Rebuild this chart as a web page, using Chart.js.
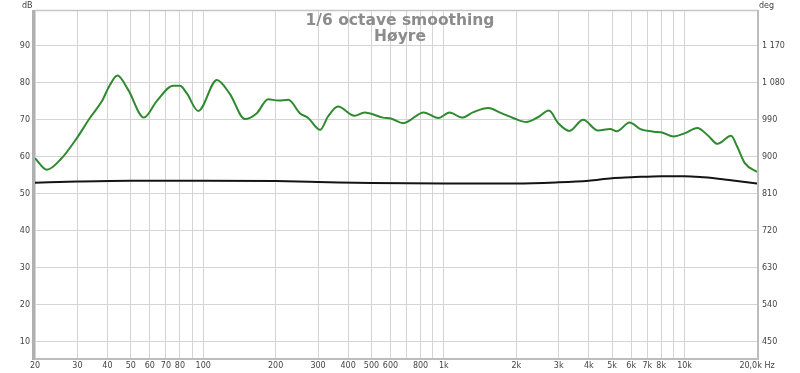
<!DOCTYPE html>
<html>
<head>
<meta charset="utf-8">
<script src="https://cdn.jsdelivr.net/npm/chart.js@4/dist/chart.umd.min.js"></script>
<style>
  html, body { margin: 0; padding: 0; background: #fff; }
  canvas { display: block; }
</style>
</head>
<body>
<canvas id="fr" width="800" height="373"></canvas>
<script>
// ─── data ───────────────────────────────────────────────────────────────────
const TITLE = ['1/6 octave smoothing', 'Høyre'];

// magnitude curve (green), dB on left axis
const magFreq = [20, 22.4, 25.8, 29.8, 33.8, 37.9, 41, 44, 48.8, 56.7, 64, 75, 80, 85.4, 95.4, 114, 129,
  149, 167, 186, 205, 226, 252, 273, 306, 330, 363, 426, 468, 558, 606, 678, 824, 948, 1056, 1188,
  1327, 1530, 1732, 1940, 2200, 2460, 2732, 2985, 3320, 3790, 4370, 4900, 5230, 5910, 6560, 7450,
  8060, 9000, 10040, 11300, 12540, 13700, 15600, 16540, 17800, 20000];
const magDb = [59.6, 56.5, 59.6, 65.0, 70.5, 75.0, 79.5, 82.0, 78.1, 70.6, 75.0, 79.2, 79.2, 77.2, 72.4, 80.8, 77.0,
  70.2, 71.8, 75.6, 75.2, 75.4, 71.8, 70.5, 67.3, 70.9, 73.6, 71.1, 72.0, 70.6, 70.3, 69.1, 72.0, 70.5, 72.0, 70.6,
  72.1, 73.2, 71.8, 70.5, 69.4, 70.7, 72.5, 69.1, 67.0, 70.0, 67.1, 67.5, 66.9, 69.3, 67.5, 66.8,
  66.6, 65.5, 66.4, 67.8, 65.7, 63.5, 65.7, 62.8, 58.3, 55.9];

// phase curve (black), degrees on right axis
const phFreq = [20, 30, 50, 100, 200, 300, 500, 1000, 2000, 3000, 4000, 5000, 6000, 8000, 10000, 12000, 15000, 20000];
const phDeg  = [837, 840, 842, 842, 841, 839, 836, 835, 835, 838, 842, 848, 850, 853, 853, 850, 844, 835];

// axes
const xGrid   = [20, 30, 40, 50, 60, 70, 80, 90, 100, 200, 300, 400, 500, 600, 700, 800, 900,
                 1000, 2000, 3000, 4000, 5000, 6000, 7000, 8000, 9000, 10000, 20000];
const xLabels = ['20', '30', '40', '50', '60', '70', '80', '', '100', '200', '300', '400', '500', '600', '', '800', '',
                 '1k', '2k', '3k', '4k', '5k', '6k', '7k', '8k', '', '10k', '20,0k Hz'];
const dbTicks  = [10, 20, 30, 40, 50, 60, 70, 80, 90];
const degTicks = [450, 540, 630, 720, 810, 900, 990, 1080, 1170];
const DB_MIN = 5.6, DB_MAX = 99.7;

// ─── helpers ────────────────────────────────────────────────────────────────
const toDeg   = db => 360 + 9 * db;           // right axis is tied to the left one
const fmtDeg  = v => String(v).replace(/\B(?=(\d{3})+(?!\d))/g, ' ');
const TICK_FONT = { family: 'DejaVu Sans', size: 8 };

const frameAndText = {
  id: 'frameAndText',
  afterDraw(chart) {
    const { ctx, chartArea: a } = chart;
    ctx.save();
    // plot frame
    ctx.strokeStyle = '#c6c6c6'; ctx.lineWidth = 1.5;
    ctx.beginPath(); ctx.moveTo(a.left, a.top + 0.5); ctx.lineTo(a.right + 1, a.top + 0.5); ctx.stroke();
    ctx.strokeStyle = '#bdbdbd'; ctx.lineWidth = 2;
    ctx.beginPath(); ctx.moveTo(a.right + 1, a.top); ctx.lineTo(a.right + 1, a.bottom + 1); ctx.stroke();
    ctx.beginPath(); ctx.moveTo(a.left, a.bottom + 1); ctx.lineTo(a.right + 2, a.bottom + 1); ctx.stroke();
    ctx.strokeStyle = '#b0b0b0'; ctx.lineWidth = 3;
    ctx.beginPath(); ctx.moveTo(a.left - 1.5, a.top); ctx.lineTo(a.left - 1.5, a.bottom + 2); ctx.stroke();

    // title
    ctx.fillStyle = '#8c8c8c';
    ctx.font = 'bold 15.5px "DejaVu Sans"';
    ctx.textAlign = 'center'; ctx.textBaseline = 'alphabetic';
    ctx.fillText(TITLE[0], 400, 25);
    ctx.fillText(TITLE[1], 400, 41);

    // axis units
    ctx.fillStyle = '#444';
    ctx.font = '8px "DejaVu Sans"';
    ctx.textAlign = 'left';
    ctx.fillText('dB', 22, 8);
    ctx.fillText('deg', 759, 8);
    ctx.restore();
  }
};

new Chart(document.getElementById('fr').getContext('2d'), {
  type: 'line',
  data: {
    datasets: [
      {
        label: 'Magnitude', yAxisID: 'y',
        data: magFreq.map((f, i) => ({ x: f, y: magDb[i] })),
        borderColor: '#2f8a2f', borderWidth: 2, pointRadius: 0,
        cubicInterpolationMode: 'monotone', fill: false,
      },
      {
        label: 'Phase', yAxisID: 'y1',
        data: phFreq.map((f, i) => ({ x: f, y: phDeg[i] })),
        borderColor: '#141414', borderWidth: 2, pointRadius: 0,
        cubicInterpolationMode: 'monotone', fill: false,
      },
    ],
  },
  options: {
    responsive: false, animation: false, devicePixelRatio: 1,
    layout: { padding: { top: 10, left: 0, right: 0, bottom: 0 } },
    plugins: { legend: { display: false }, tooltip: { enabled: false }, title: { display: false } },
    scales: {
      x: {
        type: 'logarithmic', min: 20, max: 20000,
        afterBuildTicks: s => { s.ticks = xGrid.map(v => ({ value: v })); },
        afterFit: s => { s.height = 15; },
        grid: { color: '#d4d4d4', lineWidth: 1, drawTicks: false },
        border: { display: false },
        ticks: {
          autoSkip: false, maxRotation: 0, minRotation: 0, padding: 3,
          color: '#444', font: TICK_FONT,
          callback: v => { const i = xGrid.indexOf(v); return i >= 0 ? xLabels[i] : ''; },
        },
      },
      y: {
        type: 'linear', position: 'left', min: DB_MIN, max: DB_MAX,
        afterBuildTicks: s => { s.ticks = dbTicks.map(v => ({ value: v })); },
        afterFit: s => { s.width = 35; },
        grid: { color: '#d4d4d4', lineWidth: 1, drawTicks: false },
        border: { display: false },
        ticks: { padding: 5, color: '#444', font: TICK_FONT, callback: v => String(v) },
      },
      y1: {
        type: 'linear', position: 'right', min: toDeg(DB_MIN), max: toDeg(DB_MAX),
        afterBuildTicks: s => { s.ticks = degTicks.map(v => ({ value: v })); },
        afterFit: s => { s.width = 43; },
        grid: { display: false, drawTicks: false },
        border: { display: false },
        ticks: { padding: 5, color: '#444', font: TICK_FONT, callback: v => fmtDeg(v) },
      },
    },
  },
  plugins: [frameAndText],
});
</script>
</body>
</html>
